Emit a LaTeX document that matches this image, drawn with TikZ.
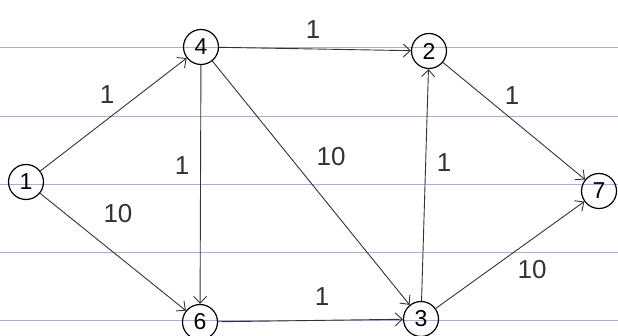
\documentclass[tikz,border=0pt]{standalone}
\usepackage{fontspec}
\setmainfont{Liberation Sans}
\usetikzlibrary{arrows.meta}
\definecolor{ruleblue}{RGB}{165,178,205}

\begin{document}
\begin{tikzpicture}[
  x=1pt, y=-1pt,
  >={Straight Barb[length=7pt,width=13pt]},
  vertex/.style={draw, circle, minimum size=35pt, inner sep=0pt, line width=1.2pt, font=\fontsize{23}{26}\selectfont},
  edge/.style={->, draw=black!80, line width=0.9pt},
  weight/.style={font=\fontsize{26}{30}\selectfont, text=black!80},
  rule/.style={draw=ruleblue, line width=0.9pt}
]
\useasboundingbox (0,0) rectangle (618,336);
% ruled paper
\foreach \y in {47,116,184,252,320}
  \draw[rule] (0,\y) -- (618,\y);

\node[vertex] (n1) at (26,182) {1};
\node[vertex] (n4) at (201,47) {4};
\node[vertex] (n2) at (429,51) {2};
\node[vertex] (n7) at (599,191) {7};
\node[vertex] (n6) at (200,322) {6};
\node[vertex] (n3) at (421,319) {3};

\draw[edge] (n1) -- (n4);
\draw[edge] (n1) -- (n6);
\draw[edge] (n4) -- (n2);
\draw[edge] (n4) -- (n6);
\draw[edge] (n4) -- (n3);
\draw[edge] (n6) -- (n3);
\draw[edge] (n3) -- (n2);
\draw[edge] (n2) -- (n7);
\draw[edge] (n3) -- (n7);

\node[weight] (w14) at (107,95) {1};
\node[weight] (w16) at (118,214) {10};
\node[weight] (w42) at (313,30) {1};
\node[weight] (w46) at (182,166) {1};
\node[weight] (w43) at (331,157) {10};
\node[weight] (w32) at (444,163) {1};
\node[weight] (w63) at (322,297) {1};
\node[weight] (w27) at (512,96) {1};
\node[weight] (w37) at (532,270) {10};
\end{tikzpicture}
\end{document}
